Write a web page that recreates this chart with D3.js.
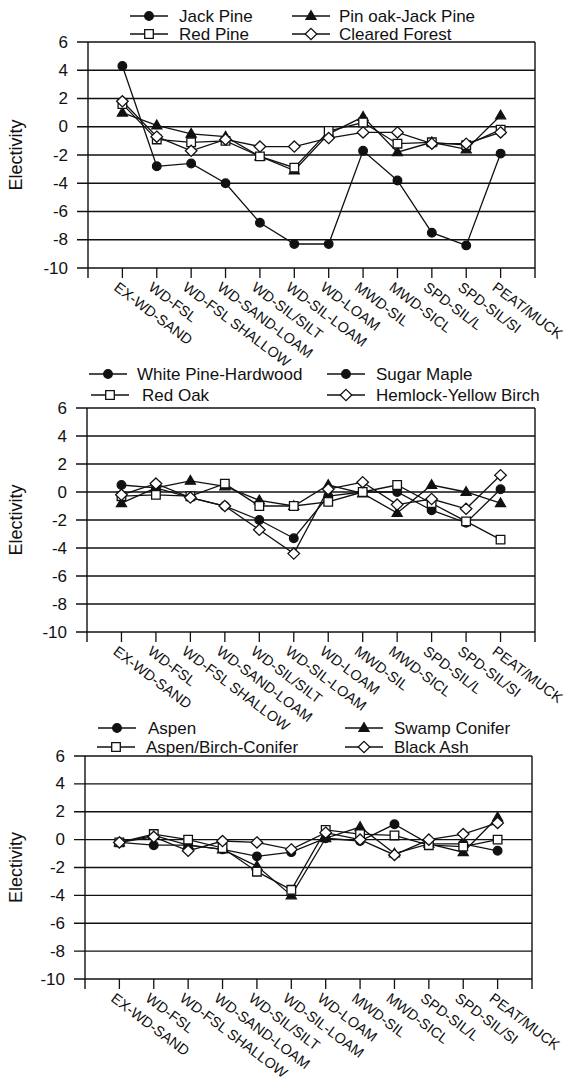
<!DOCTYPE html>
<html>
<head>
<meta charset="utf-8">
<script src="https://cdn.jsdelivr.net/npm/d3@7"></script>
<style>
  body { margin: 0; background: #fff; }
  svg text { font-family: "Liberation Sans", Arial, Helvetica, sans-serif; fill: #111; }
</style>
</head>
<body>
<script>
// soil classes along the x axis
var soils = ["EX-WD-SAND", "WD-FSL", "WD-FSL SHALLOW", "WD-SAND-LOAM", "WD-SIL/SILT", "WD-SIL-LOAM",
             "WD-LOAM", "MWD-SIL", "MWD-SICL", "SPD-SIL/L", "SPD-SIL/SI", "PEAT/MUCK"];
var yTicks = [6, 4, 2, 0, -2, -4, -6, -8, -10];

// panel 1
var jackPine       = [4.3, -2.8, -2.6, -4.0, -6.8, -8.3, -8.3, -1.7, -3.8, -7.5, -8.4, -1.9];
var pinOakJackPine = [1.0, 0.1, -0.5, -0.7, -2.1, -3.1, -0.5, 0.7, -1.8, -1.1, -1.6, 0.8];
var redPine        = [1.6, -0.9, -1.1, -1.0, -2.1, -2.9, -0.3, 0.3, -1.2, -1.1, -1.3, -0.2];
var clearedForest  = [1.8, -0.7, -1.7, -0.9, -1.4, -1.4, -0.8, -0.4, -0.4, -1.2, -1.2, -0.4];

// panel 2
var whitePineHardwood  = [0.5, 0.3, -0.4, -1.0, -2.0, -3.3, -0.3, 0.0, 0.0, -1.3, -2.2, 0.2];
var sugarMaple         = [-0.8, 0.3, 0.8, 0.4, -0.6, -1.0, 0.5, -0.1, -1.5, 0.5, 0.0, -0.8];
var redOak             = [-0.3, -0.2, -0.3, 0.6, -1.0, -1.0, -0.7, 0.0, 0.5, -0.8, -2.1, -3.4];
var hemlockYellowBirch = [-0.2, 0.6, -0.4, -1.0, -2.7, -4.4, 0.2, 0.7, -0.9, -0.5, -1.2, 1.2];

// panel 3
var aspen             = [-0.2, -0.4, -0.4, -0.7, -1.2, -0.9, 0.1, -0.1, 1.1, -0.3, -0.3, -0.8];
var swampConifer      = [-0.2, 0.3, -0.4, -0.7, -1.9, -4.0, 0.1, 0.9, -1.0, -0.3, -0.9, 1.6];
var aspenBirchConifer = [-0.2, 0.4, 0.0, -0.6, -2.3, -3.6, 0.7, 0.4, 0.3, -0.4, -0.5, 0.0];
var blackAsh          = [-0.2, 0.2, -0.8, -0.1, -0.2, -0.7, 0.5, 0.0, -1.1, 0.0, 0.4, 1.2];

var panels = [
  { top: 42, bottom: 268, left: 88, right: 535,
    series: [
      { name: "Jack Pine", values: jackPine, marker: "circle" },
      { name: "Pin oak-Jack Pine", values: pinOakJackPine, marker: "triangle" },
      { name: "Red Pine", values: redPine, marker: "square" },
      { name: "Cleared Forest", values: clearedForest, marker: "diamond" }
    ],
    legend: [[130, 16, 179], [292, 16, 339], [130, 34, 179], [292, 34, 339]] },
  { top: 408, bottom: 632, left: 87, right: 535,
    series: [
      { name: "White Pine-Hardwood", values: whitePineHardwood, marker: "circle" },
      { name: "Sugar Maple", values: sugarMaple, marker: "triangle", legendMarker: "circle" },
      { name: "Red Oak", values: redOak, marker: "square" },
      { name: "Hemlock-Yellow Birch", values: hemlockYellowBirch, marker: "diamond" }
    ],
    legend: [[89, 374, 137], [327, 374, 376], [91, 395, 142], [327, 395, 376]] },
  { top: 756, bottom: 979, left: 85, right: 532,
    series: [
      { name: "Aspen", values: aspen, marker: "circle" },
      { name: "Swamp Conifer", values: swampConifer, marker: "triangle" },
      { name: "Aspen/Birch-Conifer", values: aspenBirchConifer, marker: "square" },
      { name: "Black Ash", values: blackAsh, marker: "diamond" }
    ],
    legend: [[98, 728, 148], [345, 728, 394], [97, 747, 146], [345, 747, 394]] }
];

var svg = d3.select("body").append("svg")
    .attr("width", 569)
    .attr("height", 1080);

function markerPath(type) {
  if (type === "circle") return "M-4.3,0A4.3,4.3 0 1,0 4.3,0A4.3,4.3 0 1,0 -4.3,0Z";
  if (type === "triangle") return "M0,-5.2L5,3.4L-5,3.4Z";
  if (type === "square") return "M-4.3,-4.3H4.3V4.3H-4.3Z";
  return "M0,-5.6L5.8,0L0,5.6L-5.8,0Z";
}

function drawMarker(g, type, x, y) {
  var hollow = (type === "square" || type === "diamond");
  g.append("path")
    .attr("d", markerPath(type))
    .attr("transform", "translate(" + x + "," + y + ")")
    .attr("fill", hollow ? "#fff" : "#111")
    .attr("stroke", "#111")
    .attr("stroke-width", 1.3);
}

panels.forEach(function(p) {
  var x = d3.scaleLinear().domain([0, soils.length + 1]).range([p.left, p.right]);
  var y = d3.scaleLinear().domain([-10, 6]).range([p.bottom, p.top]);
  var g = svg.append("g");

  // horizontal grid lines with outward ticks
  g.selectAll(".grid").data(yTicks).enter().append("line")
    .attr("x1", p.left - 11).attr("x2", p.right)
    .attr("y1", d => y(d)).attr("y2", d => y(d))
    .attr("stroke", "#111").attr("stroke-width", 1.4);

  g.selectAll(".ylab").data(yTicks).enter().append("text")
    .attr("x", p.left - 20).attr("y", d => y(d))
    .attr("text-anchor", "end").attr("dominant-baseline", "central")
    .style("font-size", "17px")
    .text(d => d);

  // left axis and right border, both running down to tick length
  [p.left, p.right].forEach(function(xx) {
    g.append("line").attr("x1", xx).attr("x2", xx)
      .attr("y1", p.top).attr("y2", p.bottom + 10)
      .attr("stroke", "#111").attr("stroke-width", 1.4);
  });

  // x ticks
  g.selectAll(".xtick").data(d3.range(1, soils.length + 1)).enter().append("line")
    .attr("x1", d => x(d)).attr("x2", d => x(d))
    .attr("y1", p.bottom).attr("y2", p.bottom + 10)
    .attr("stroke", "#111").attr("stroke-width", 1.3);

  g.selectAll(".xlab").data(soils).enter().append("text")
    .attr("transform", (d, i) => "translate(" + (x(i + 1) - 3) + "," + (p.bottom + 13) + ") rotate(37)")
    .attr("dy", "0.72em")
    .style("font-size", "14.5px")
    .text(d => d);

  g.append("text")
    .attr("transform", "translate(16," + ((p.top + p.bottom) / 2) + ") rotate(-90)")
    .attr("text-anchor", "middle").attr("dominant-baseline", "central")
    .style("font-size", "18px")
    .text("Electivity");

  var line = d3.line().x((d, i) => x(i + 1)).y(d => y(d));
  p.series.forEach(function(s) {
    g.append("path").attr("d", line(s.values))
      .attr("fill", "none").attr("stroke", "#111").attr("stroke-width", 1.3);
  });
  p.series.forEach(function(s) {
    s.values.forEach(function(v, i) { drawMarker(g, s.marker, x(i + 1), y(v)); });
  });

  // legend
  p.series.forEach(function(s, k) {
    var L = p.legend[k];
    g.append("line").attr("x1", L[0]).attr("x2", L[0] + 38)
      .attr("y1", L[1]).attr("y2", L[1])
      .attr("stroke", "#111").attr("stroke-width", 1.3);
    drawMarker(g, s.legendMarker || s.marker, L[0] + 19, L[1]);
    g.append("text").attr("x", L[2]).attr("y", L[1])
      .attr("dominant-baseline", "central")
      .style("font-size", "17px")
      .text(s.name);
  });
});
</script>
</body>
</html>
